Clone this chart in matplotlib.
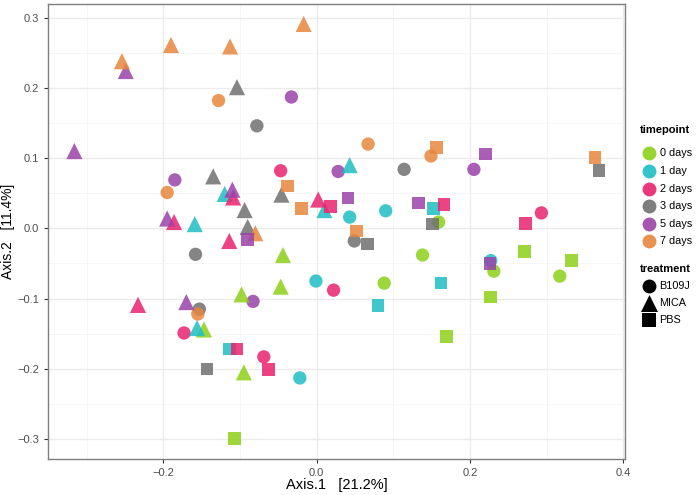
import matplotlib
matplotlib.use('Agg')
import matplotlib.pyplot as plt
from matplotlib.ticker import MultipleLocator

plt.rcParams['font.family'] = ['Liberation Sans', 'DejaVu Sans']

# PCoA coordinates
axis1 = [
    # B109J (circles)
    0.138, 0.159, 0.088, 0.231, 0.317,
    0.043, 0.090, -0.001, -0.022, 0.227,
    -0.047, 0.293, 0.022, -0.173, -0.069,
    -0.078, 0.114, 0.049, -0.158, -0.153,
    -0.033, -0.185, 0.028, 0.205, -0.083,
    -0.128, -0.195, 0.067, 0.149, -0.155,
    # MICA (triangles)
    -0.044, -0.047, -0.098, -0.147, -0.095,
    -0.120, -0.159, 0.010, 0.043, -0.156,
    -0.109, -0.186, -0.114, 0.002, -0.233,
    -0.104, -0.135, -0.094, -0.090, -0.046,
    -0.249, -0.316, -0.110, -0.195, -0.170,
    -0.254, -0.190, -0.113, -0.017, -0.080,
    # PBS (squares)
    0.271, 0.332, 0.227, 0.169, -0.107,
    0.152, 0.162, 0.080, -0.114,
    0.018, 0.166, 0.272, -0.104, -0.063,
    0.066, 0.151, 0.368, -0.143,
    -0.090, 0.041, 0.133, 0.220, 0.226,
    -0.038, -0.020, 0.052, 0.156, 0.363,
]
axis2 = [
    -0.038, 0.009, -0.078, -0.061, -0.068,
    0.016, 0.025, -0.075, -0.213, -0.046,
    0.082, 0.022, -0.088, -0.149, -0.183,
    0.146, 0.084, -0.018, -0.037, -0.115,
    0.187, 0.069, 0.081, 0.084, -0.104,
    0.182, 0.051, 0.120, 0.103, -0.122,
    -0.038, -0.083, -0.094, -0.144, -0.205,
    0.049, 0.006, 0.026, 0.090, -0.142,
    0.044, 0.009, -0.018, 0.041, -0.109,
    0.201, 0.074, 0.026, 0.002, 0.048,
    0.224, 0.110, 0.055, 0.014, -0.105,
    0.238, 0.261, 0.259, 0.291, -0.007,
    -0.033, -0.046, -0.098, -0.154, -0.299,
    0.028, -0.078, -0.110, -0.172,
    0.031, 0.034, 0.007, -0.172, -0.201,
    -0.022, 0.006, 0.082, -0.200,
    -0.016, 0.043, 0.036, 0.106, -0.050,
    0.060, 0.028, -0.004, 0.115, 0.101,
]
timepoint = (
    ['0 days'] * 5 + ['1 day'] * 5 + ['2 days'] * 5 + ['3 days'] * 5 + ['5 days'] * 5 + ['7 days'] * 5
    + ['0 days'] * 5 + ['1 day'] * 5 + ['2 days'] * 5 + ['3 days'] * 5 + ['5 days'] * 5 + ['7 days'] * 5
    + ['0 days'] * 5 + ['1 day'] * 4 + ['2 days'] * 5 + ['3 days'] * 4 + ['5 days'] * 5 + ['7 days'] * 5
)
treatment = ['B109J'] * 30 + ['MICA'] * 30 + ['PBS'] * 28

time_levels = ['0 days', '1 day', '2 days', '3 days', '5 days', '7 days']
time_colors = ['#8CD11A', '#1DBEC4', '#E9226F', '#707070', '#9A43A8', '#E8863E']
treat_levels = ['B109J', 'MICA', 'PBS']
treat_markers = ['o', '^', 's']
treat_sizes = [92, 135, 82]

fig = plt.figure(figsize=(6.97, 4.95), dpi=100)
ax = fig.add_axes([0.0693, 0.0733, 0.8278, 0.918])

col = dict(zip(time_levels, time_colors))
for tr, mk, sz in zip(treat_levels, treat_markers, treat_sizes):
    xs = [x for x, t in zip(axis1, treatment) if t == tr]
    ys = [y for y, t in zip(axis2, treatment) if t == tr]
    cs = [col[tp] for tp, t in zip(timepoint, treatment) if t == tr]
    ax.scatter(xs, ys, c=cs, marker=mk, s=sz, alpha=0.85, linewidths=0, zorder=3)

ax.set_xlim(-0.35, 0.4024)
ax.set_ylim(-0.328, 0.319)
ax.xaxis.set_major_locator(MultipleLocator(0.2))
ax.xaxis.set_minor_locator(MultipleLocator(0.1))
ax.yaxis.set_major_locator(MultipleLocator(0.1))
ax.yaxis.set_minor_locator(MultipleLocator(0.05))
fmt = lambda v, p: f'{v:.1f}'.replace('-', '\u2212') if abs(v) > 1e-9 else '0.0'
ax.xaxis.set_major_formatter(fmt)
ax.yaxis.set_major_formatter(fmt)
ax.grid(True, which='major', color='#EBEBEB', linewidth=1.0, zorder=0)
ax.grid(True, which='minor', color='#F5F5F5', linewidth=0.6, zorder=0)
ax.set_axisbelow(True)
ax.tick_params(which='major', length=3, color='#333333', labelsize=8, labelcolor='#4D4D4D', width=0.8)
ax.tick_params(which='minor', length=0)
for s in ax.spines.values():
    s.set_color('#7F7F7F')
    s.set_linewidth(1.0)

ax.set_xlabel('Axis.1   [21.2%]', fontsize=10.5, labelpad=0)
ax.set_ylabel('Axis.2   [11.4%]', fontsize=10)
ax.yaxis.set_label_coords(-0.058, 0.5)

# legends, laid out in figure pixels
lax = fig.add_axes([0, 0, 1, 1], zorder=5)
lax.set_xlim(0, 697)
lax.set_ylim(495, 0)
lax.axis('off')

lax.text(640, 130, 'timepoint', fontsize=8, fontweight='bold', va='center', ha='left')
for i, (lab, c) in enumerate(zip(time_levels, time_colors)):
    yy = 153.3 + 17.6 * i
    lax.scatter([649], [yy], s=100, color=c, alpha=0.9, linewidths=0)
    lax.text(659.5, yy, lab, fontsize=7.8, va='center', ha='left')

lax.text(640, 269.5, 'treatment', fontsize=8, fontweight='bold', va='center', ha='left')
for i, (lab, mk, sz) in enumerate(zip(treat_levels, treat_markers, [100, 150, 88])):
    yy = 286 + 17.2 * i
    lax.scatter([649], [yy], s=sz, marker=mk, color='black', linewidths=0)
    lax.text(659.5, yy, lab, fontsize=7.8, va='center', ha='left')

fig.savefig('out.png', dpi=100)
